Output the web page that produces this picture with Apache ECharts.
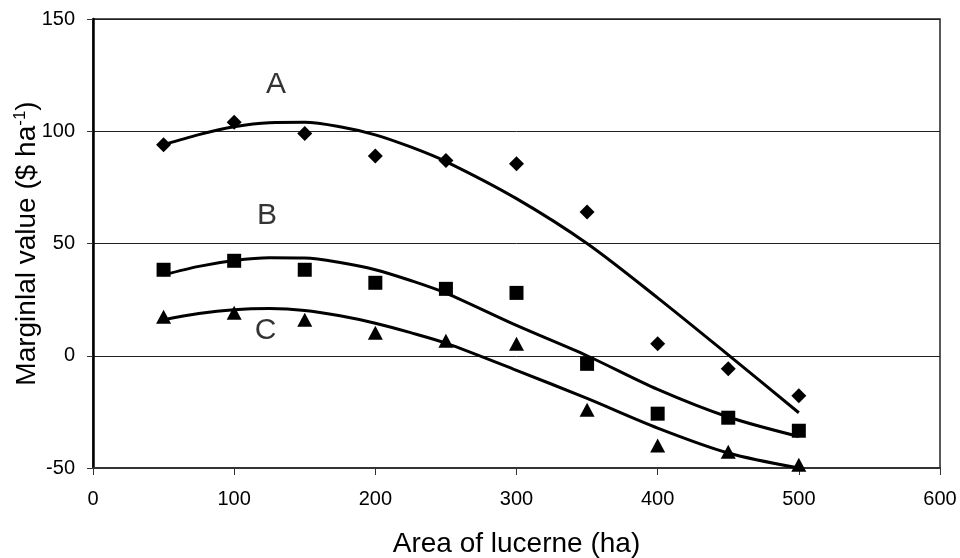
<!DOCTYPE html>
<html>
<head>
<meta charset="utf-8">
<script src="https://cdn.jsdelivr.net/npm/echarts@6/dist/echarts.min.js"></script>
<style>html,body{margin:0;padding:0;background:#fff}#c{width:960px;height:558px}</style>
</head>
<body>
<div id="c"></div>
<script>
// Observed data points (area of lucerne, ha)
const xPoints = [50, 100, 150, 200, 250, 300, 350, 400, 450, 500];
const seriesA = [94, 104, 99, 89, 87, 85.5, 64, 5.3, -5.8, -17.8];
const seriesB = [38.3, 42.3, 38.3, 32.5, 29.8, 28, -3.6, -25.8, -27.6, -33.4];
const seriesC = [17.4, 19.2, 16, 10.2, 6.7, 5.3, -24, -40, -42.8, -48.5];

// Trend lines
const trendX = [50, 75, 100, 125, 150, 175, 200, 225, 250, 300, 350, 400, 450, 500];
const trendA = [94, 98.5, 102, 103.8, 104, 102, 98.4, 93, 86.5, 70, 50, 25.8, 0.4, -25.4];
const trendB = [36, 39.8, 42.4, 43.6, 43.5, 41.5, 38.3, 33.5, 27.9, 13.5, 0, -15, -27.3, -36];
const trendC = [16, 18.8, 20.5, 21, 20.2, 17.8, 14.5, 10.3, 5.6, -6.5, -19, -32.2, -43.3, -50];

// Curve labels [x, y, text]
const curveLabels = [[129.6, 120.7, 'A'], [123.3, 62.2, 'B'], [122.2, 11.0, 'C']];

const xTicks = [0, 100, 200, 300, 400, 500, 600];
const yTicks = [-50, 0, 50, 100, 150];

const zip = (xs, ys) => xs.map((x, i) => [x, ys[i]]);
const FONT = 'Liberation Sans, Arial, sans-serif';

const chart = echarts.init(document.getElementById('c'), null, {renderer: 'canvas'});
chart.setOption({
  animation: false,
  backgroundColor: '#fff',
  grid: {left: 93, right: 20, top: 19, bottom: 90, show: true, borderColor: '#222', borderWidth: 1.5,
    containLabel: false, outerBoundsMode: 'none'},
  xAxis: {
    type: 'value', min: xTicks[0], max: xTicks[xTicks.length - 1], interval: 100,
    name: 'Area of lucerne (ha)', nameLocation: 'middle', nameGap: 62, nameMoveOverlap: false,
    nameTextStyle: {fontFamily: FONT, fontSize: 28, color: '#000'},
    axisLine: {show: true, onZero: false, lineStyle: {color: '#333', width: 2}},
    axisTick: {show: true, inside: false, length: 7, lineStyle: {color: '#333', width: 1}},
    axisLabel: {fontFamily: FONT, fontSize: 20, color: '#000', margin: 21},
    splitLine: {show: false}
  },
  yAxis: {
    type: 'value', min: yTicks[0], max: yTicks[yTicks.length - 1], interval: 50,
    name: '{n|Marginlal value ($ ha}{s|-1}{n|)}', nameLocation: 'middle', nameGap: 50, nameRotate: 90,
    nameMoveOverlap: false,
    nameTextStyle: {fontFamily: FONT, fontSize: 28, color: '#000',
      rich: {n: {fontFamily: FONT, fontSize: 28, color: '#000'}, s: {fontFamily: FONT, fontSize: 17, color: '#000', verticalAlign: 'top', padding: [0, 0, 14, 0]}}},
    axisLine: {show: true, onZero: false, lineStyle: {color: '#000', width: 2.5}},
    axisTick: {show: true, inside: false, length: 6, lineStyle: {color: '#333', width: 1}},
    axisLabel: {fontFamily: FONT, fontSize: 20, color: '#000', margin: 18},
    splitLine: {show: true, lineStyle: {color: '#222', width: 1}}
  },
  series: [
    {type: 'line', data: zip(trendX, trendA), smooth: 0.3, showSymbol: false, lineStyle: {color: '#000', width: 3}, z: 3},
    {type: 'line', data: zip(trendX, trendB), smooth: 0.3, showSymbol: false, lineStyle: {color: '#000', width: 3}, z: 3},
    {type: 'line', data: zip(trendX, trendC), smooth: 0.3, showSymbol: false, lineStyle: {color: '#000', width: 3}, z: 3},
    {type: 'scatter', data: zip(xPoints, seriesA), symbol: 'diamond', symbolSize: [15, 15], itemStyle: {color: '#000', opacity: 1}, z: 4},
    {type: 'scatter', data: zip(xPoints, seriesB), symbol: 'rect', symbolSize: [14, 14], itemStyle: {color: '#000', opacity: 1}, z: 4},
    {type: 'scatter', data: zip(xPoints, seriesC), symbol: 'triangle', symbolSize: [15, 14], itemStyle: {color: '#000', opacity: 1}, z: 4},
    {type: 'scatter', data: curveLabels.map(d => ({value: [d[0], d[1]], name: d[2]})), symbolSize: 0,
      label: {show: true, position: 'inside', formatter: p => p.name, fontFamily: FONT, fontSize: 30, color: '#000'}, z: 5, silent: true}
  ]
});
</script>
</body>
</html>
